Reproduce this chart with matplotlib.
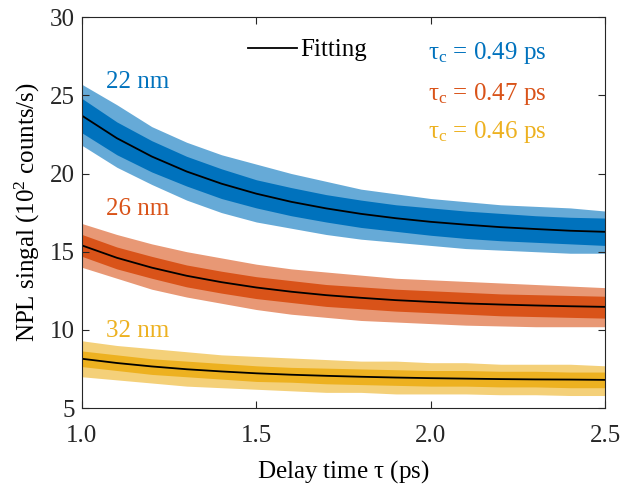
import matplotlib
matplotlib.use('Agg')
import matplotlib.pyplot as plt

plt.rcParams['font.family'] = ['Liberation Serif', 'DejaVu Serif']
plt.rcParams['mathtext.fontset'] = 'custom'
plt.rcParams['mathtext.rm'] = 'Liberation Serif'
plt.rcParams['mathtext.it'] = 'Liberation Serif:italic'

# delay time (ps)
delay = [1.0, 1.1, 1.2, 1.3, 1.4, 1.5, 1.6, 1.7, 1.8, 1.9, 2.0, 2.1, 2.2, 2.3, 2.4, 2.5]

# 22 nm (blue)
fit_22 = [23.7, 22.26, 21.09, 20.13, 19.35, 18.71, 18.19, 17.77, 17.42, 17.14, 16.91, 16.73, 16.57, 16.45, 16.34, 16.27]
hi_22 = [25.7, 24.4, 23.0, 22.0, 21.2, 20.6, 20.0, 19.5, 19.0, 18.7, 18.4, 18.2, 18.0, 17.9, 17.8, 17.6]
lo_22 = [21.8, 20.4, 19.3, 18.3, 17.5, 16.9, 16.5, 16.1, 15.8, 15.6, 15.4, 15.2, 15.1, 15.0, 14.9, 14.9]
core_hi_22 = [24.8, 23.3, 22.1, 21.1, 20.3, 19.6, 19.1, 18.65, 18.3, 18.0, 17.8, 17.6, 17.45, 17.3, 17.2, 17.15]
core_lo_22 = [22.6, 21.2, 20.1, 19.2, 18.4, 17.8, 17.3, 16.9, 16.55, 16.3, 16.05, 15.85, 15.7, 15.6, 15.5, 15.4]

# 26 nm (orange)
fit_26 = [15.40, 14.61, 13.98, 13.46, 13.05, 12.71, 12.44, 12.22, 12.05, 11.90, 11.79, 11.69, 11.62, 11.56, 11.51, 11.47]
hi_26 = [16.8, 16.1, 15.5, 15.0, 14.6, 14.2, 13.9, 13.7, 13.5, 13.3, 13.2, 13.1, 13.0, 12.9, 12.8, 12.7]
lo_26 = [14.0, 13.3, 12.6, 12.1, 11.7, 11.3, 11.0, 10.8, 10.6, 10.5, 10.4, 10.3, 10.25, 10.2, 10.2, 10.2]
core_hi_26 = [16.1, 15.3, 14.7, 14.15, 13.75, 13.4, 13.15, 12.9, 12.75, 12.6, 12.5, 12.4, 12.3, 12.25, 12.2, 12.15]
core_lo_26 = [14.7, 13.9, 13.3, 12.75, 12.35, 12.0, 11.75, 11.5, 11.35, 11.2, 11.1, 11.0, 10.9, 10.85, 10.8, 10.75]

# 32 nm (yellow)
fit_32 = [8.15, 7.88, 7.66, 7.48, 7.34, 7.22, 7.13, 7.06, 7.00, 6.95, 6.91, 6.88, 6.85, 6.83, 6.82, 6.80]
hi_32 = [9.3, 9.0, 8.8, 8.6, 8.4, 8.3, 8.2, 8.1, 8.0, 8.0, 7.9, 7.9, 7.8, 7.8, 7.8, 7.7]
lo_32 = [7.0, 6.8, 6.6, 6.4, 6.3, 6.2, 6.1, 6.0, 6.0, 5.9, 5.9, 5.9, 5.85, 5.85, 5.8, 5.8]
core_hi_32 = [8.65, 8.4, 8.15, 8.0, 7.85, 7.7, 7.6, 7.55, 7.5, 7.45, 7.4, 7.4, 7.35, 7.35, 7.3, 7.3]
core_lo_32 = [7.65, 7.4, 7.15, 7.0, 6.85, 6.7, 6.65, 6.55, 6.5, 6.45, 6.4, 6.4, 6.35, 6.35, 6.3, 6.3]

labels = ['22 nm', '26 nm', '32 nm']
tau_c = ['0.49', '0.47', '0.46']
colors = ['#0072BD', '#D95319', '#EDB120']

FS = 18

fig = plt.figure(figsize=(6.33, 4.91), dpi=100)
ax = fig.add_axes([0.1295, 0.169, 0.8265, 0.796])

series = [
    (fit_22, hi_22, lo_22, core_hi_22, core_lo_22),
    (fit_26, hi_26, lo_26, core_hi_26, core_lo_26),
    (fit_32, hi_32, lo_32, core_hi_32, core_lo_32),
]

for (fit, hi, lo, chi, clo), c in zip(series, colors):
    ax.fill_between(delay, lo, hi, color=c, alpha=0.6, lw=0)
    ax.fill_between(delay, clo, chi, color=c, lw=0)

for i, (fit, *_rest) in enumerate(series):
    ax.plot(delay, fit, color='k', lw=1.3, label='Fitting' if i == 0 else None)

# sample labels (baseline positions in data units)
label_y = [25.46, 17.34, 9.54]
for lab, y, c in zip(labels, label_y, colors):
    ax.text(1.07, y, lab, color=c, fontsize=FS, va='baseline', ha='left')

# tau_c annotations
tau_y = [0.893, 0.788, 0.691]
for t, y, c in zip(tau_c, tau_y, colors):
    ax.text(0.662, y, r'$\mathrm{\tau}_{\mathrm{c}}$ = ' + t + ' ps', color=c, fontsize=FS,
            va='baseline', ha='left', transform=ax.transAxes)

ax.legend(frameon=False, loc='center left', bbox_to_anchor=(0.317, 0.916),
          fontsize=FS, handlelength=1.95, handletextpad=0.15, borderpad=0, borderaxespad=0)

ax.set_xlim(1.0, 2.5)
ax.set_ylim(5, 30)
ax.set_xticks([1.0, 1.5, 2.0, 2.5])
ax.set_xticklabels(['1.0', '1.5', '2.0', '2.5'])
ax.set_yticks([5, 10, 15, 20, 25, 30])
ax.tick_params(direction='in', top=True, right=True, labelsize=FS, length=5,
               width=0.8, colors='#262626')
ax.tick_params(axis='x', pad=12)
ax.tick_params(axis='y', pad=5)
for sp in ax.spines.values():
    sp.set_color('#262626')
    sp.set_linewidth(0.8)

ax.set_xlabel(r'Delay time $\mathrm{\tau}$ (ps)', fontsize=FS, labelpad=8)
ax.set_ylabel(r'NPL singal (10$^2$ counts/s)', fontsize=FS, labelpad=6)

fig.savefig('out.png', dpi=100)
